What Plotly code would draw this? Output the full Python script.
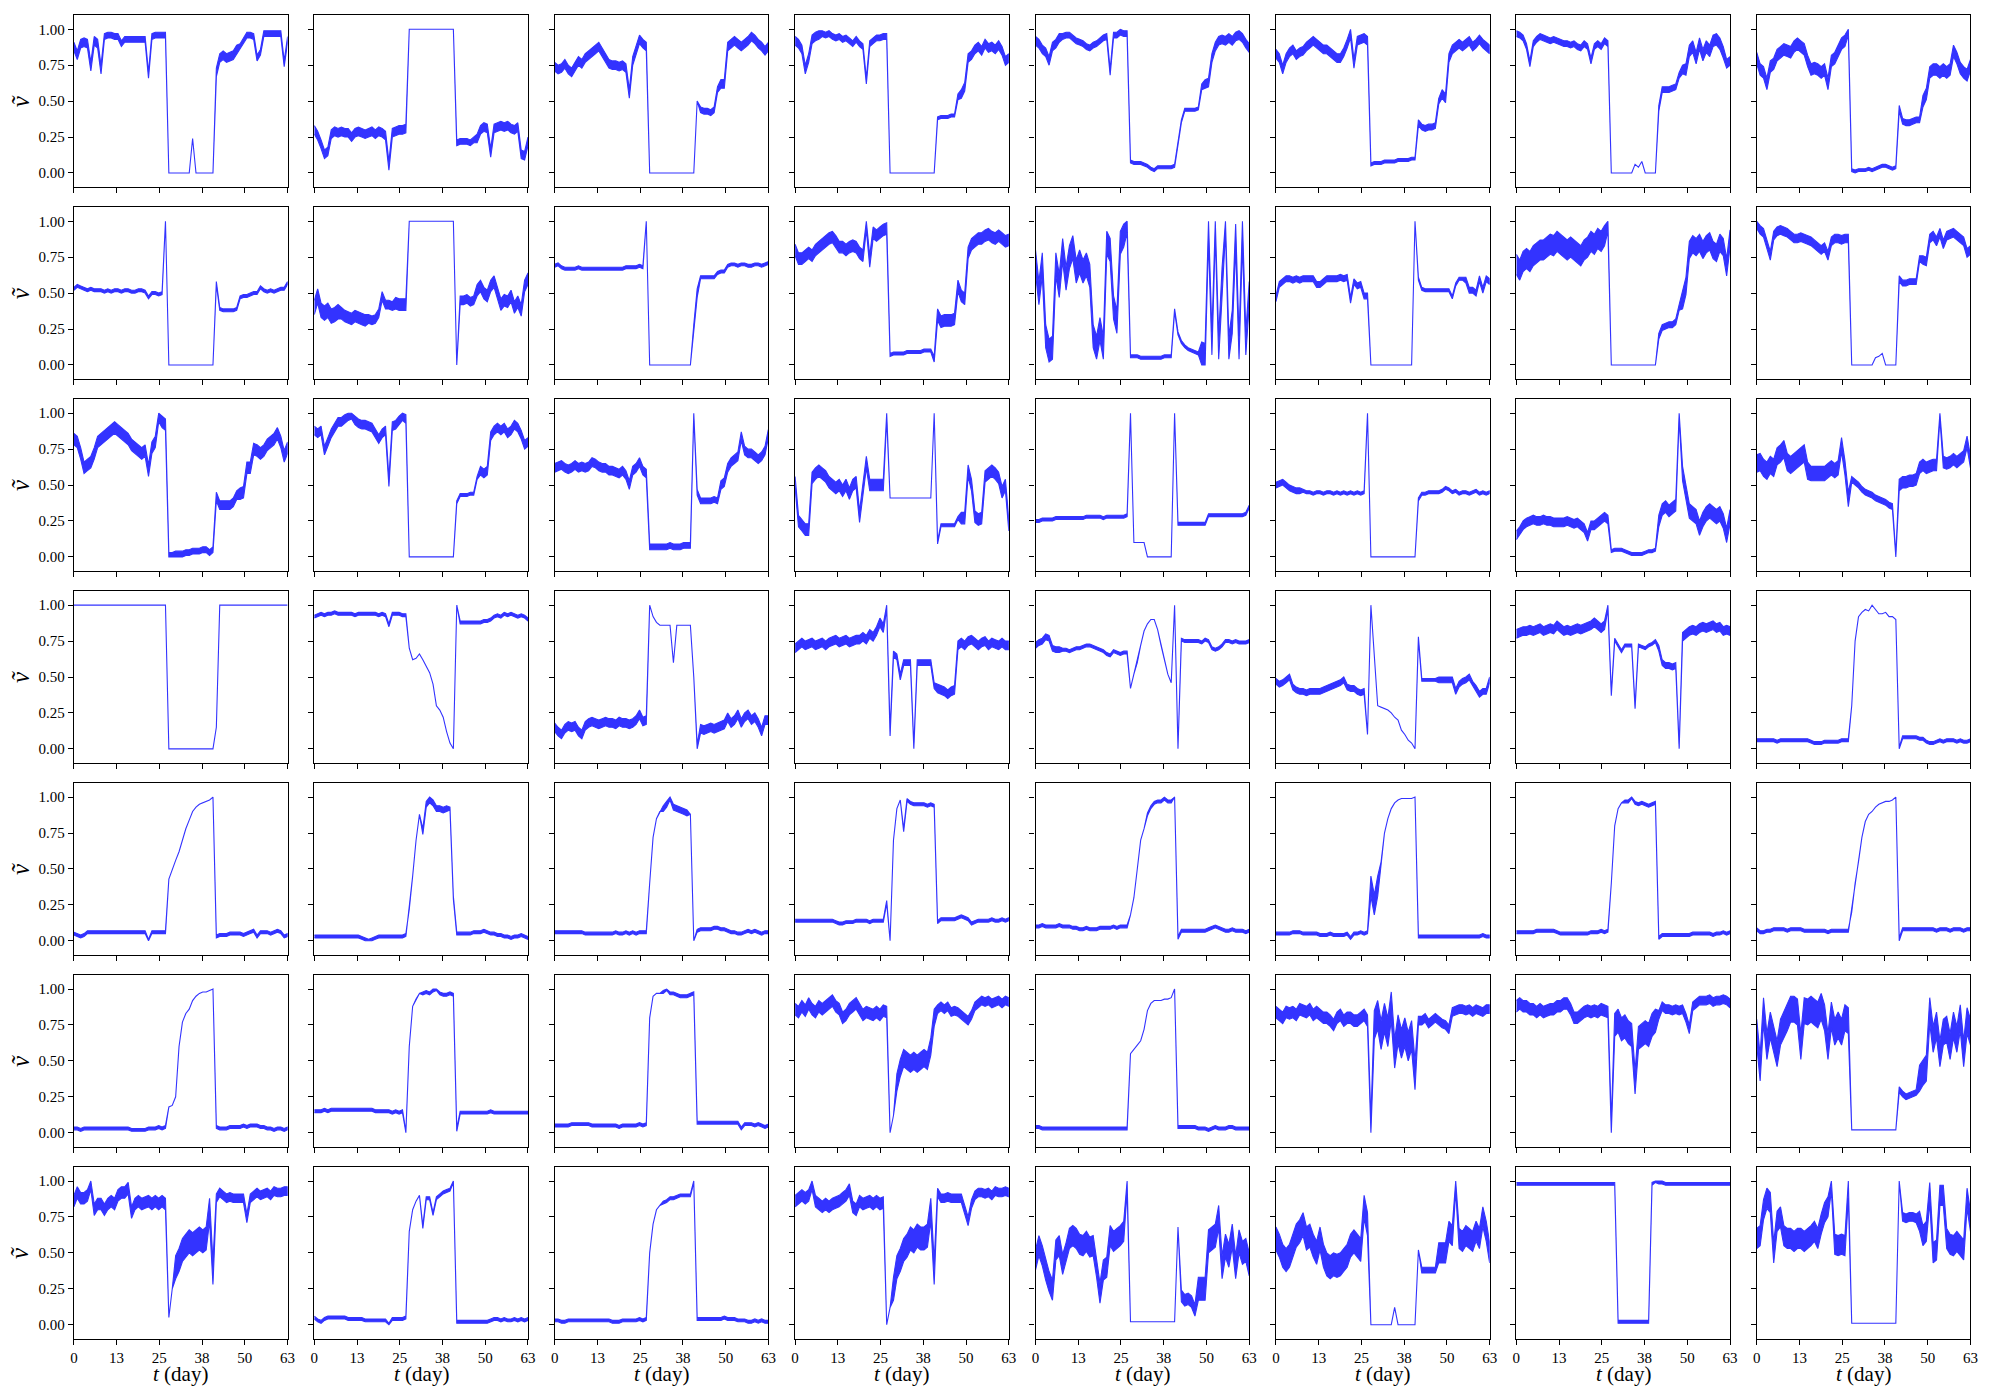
import numpy as np
import plotly.graph_objects as go

# ---------------- axis ticks ----------------
X_TICK_VALS = [0, 12.6, 25.2, 37.8, 50.4, 63]
X_TICK_TEXT = ["0", "13", "25", "38", "50", "63"]
Y_TICK_VALS = [0, 0.25, 0.5, 0.75, 1.0]
Y_TICK_TEXT = ["0.00", "0.25", "0.50", "0.75", "1.00"]
T_MIN, T_MAX = 0, 63

# ---------------- data ----------------
# Central value (x100) read for each day t = 0..63, grouped 8 days per block.
# Noise half-width (x0.01, base-36 digit) read for each day.
ROW1_MID = [
"88 82 90 91 90 74 92 90 / 72 95 96 96 95 95 90 93 / 93 93 93 93 93 93 68 95 / 96 96 96 96 0 0 0 0 / 0 0 0 24 0 0 0 0 / 0 0 70 80 82 80 81 82 / 86 88 92 96 96 95 80 84 / 97 97 97 97 97 97 76 93",
"30 26 20 13 15 27 29 28 / 29 28 28 25 28 29 28 27 / 28 29 27 29 28 26 5 28 / 29 30 30 31 100 100 100 100 / 100 100 100 100 100 100 100 100 / 100 100 21 22 22 22 21 23 / 24 30 32 31 14 31 32 33 / 32 33 31 30 32 13 12 22",
"74 72 73 76 72 70 74 78 / 76 80 82 84 86 88 84 80 / 76 75 75 74 75 73 55 78 / 85 93 90 88 0 0 0 0 / 0 0 0 0 0 0 0 0 / 0 0 50 44 43 43 42 44 / 58 62 62 88 90 92 90 88 / 90 92 95 93 90 88 85 88",
"92 90 86 72 80 93 95 96 / 97 96 97 95 94 95 93 94 / 92 90 93 90 88 64 90 92 / 94 94 95 95 0 0 0 0 / 0 0 0 0 0 0 0 0 / 0 0 38 39 39 39 40 40 / 53 55 60 80 82 86 88 85 / 90 87 88 86 89 85 78 80",
"92 90 86 84 78 88 90 94 / 95 96 96 94 92 91 90 88 / 87 89 90 92 94 95 70 96 / 96 98 97 97 8 7 7 7 / 6 5 3 2 4 4 4 4 / 4 5 20 36 44 44 44 44 / 45 60 62 63 80 88 92 93 / 92 94 92 95 96 94 90 87",
"83 80 72 80 84 86 82 84 / 85 88 90 92 90 88 86 86 / 84 82 80 80 84 90 97 76 / 92 93 94 92 6 7 7 7 / 8 8 8 8 9 9 9 9 / 10 10 35 32 31 32 32 33 / 50 55 52 80 86 88 90 88 / 90 92 88 90 93 90 88 86",
"97 96 94 88 76 90 93 95 / 94 93 92 93 92 91 90 90 / 89 90 88 87 90 88 78 88 / 90 88 92 90 0 0 0 0 / 0 0 0 6 4 8 0 0 / 0 0 45 58 58 58 59 60 / 68 72 72 85 88 80 90 82 / 88 85 92 93 90 84 76 78",
"80 72 70 62 74 76 82 84 / 86 85 84 88 90 88 86 78 / 72 73 72 70 72 62 78 80 / 85 90 92 100 2 1 2 2 / 2 3 2 3 4 5 5 4 / 3 4 45 36 35 35 36 37 / 37 50 55 70 72 72 70 72 / 70 72 85 80 73 70 68 75",
]
ROW1_AMP = [
"33333333 32222222 22222222 22220000 00000000 00333333 32222222 22222222",
"33333333 33333333 33333333 33330000 00000000 00222222 33333333 33333333",
"33333333 33333333 33333333 33330000 00000000 00022222 23333333 33333333",
"33333333 22222222 22222222 22220000 00000000 00111111 23333333 33333333",
"33333333 22222222 22222222 22221111 11111111 11111111 12333333 33333333",
"33333333 33333333 33333333 33331111 11111111 11222222 23333333 33333333",
"22222222 22222222 22222222 22220000 00000000 00222222 23444444 44444433",
"44444444 44444444 44444444 44441111 11111111 11222222 24444444 44444444",
]

ROW2_MID = [
"53 55 54 53 52 53 52 52 / 52 51 52 51 52 52 51 52 / 52 51 51 52 52 51 47 50 / 50 49 50 100 0 0 0 0 / 0 0 0 0 0 0 0 0 / 0 0 57 39 38 38 38 38 / 39 47 48 48 49 50 50 54 / 52 51 52 51 52 53 53 57",
"40 48 38 36 38 34 35 37 / 36 34 33 32 34 33 32 31 / 32 31 32 36 48 42 42 41 / 43 42 42 42 100 100 100 100 / 100 100 100 100 100 100 100 100 / 100 100 0 45 45 46 44 45 / 52 55 50 48 55 58 50 42 / 45 44 48 40 44 38 55 60",
"69 70 68 67 67 67 67 68 / 67 67 67 67 67 67 67 67 / 67 67 67 67 67 68 68 68 / 68 69 68 100 0 0 0 0 / 0 0 0 0 0 0 0 0 / 0 25 50 61 61 61 61 61 / 64 65 65 69 70 70 69 70 / 70 69 69 70 70 69 70 71",
"80 74 74 76 78 76 80 82 / 84 86 88 89 86 82 82 80 / 82 83 82 78 76 98 72 92 / 90 92 94 95 7 8 8 8 / 8 9 9 9 9 9 10 10 / 10 4 35 30 31 31 31 32 / 55 48 46 78 84 86 88 88 / 90 91 89 88 90 88 86 87",
"72 50 70 20 10 12 70 55 / 80 60 75 82 65 72 65 70 / 62 20 12 25 12 85 80 40 / 30 85 90 100 6 6 6 5 / 5 5 5 5 5 5 6 6 / 6 38 22 16 13 11 10 9 / 8 8 7 95 15 98 12 60 / 100 12 30 90 12 92 15 50",
"46 56 58 60 60 59 60 59 / 60 60 60 60 56 56 58 60 / 60 60 60 61 60 61 45 58 / 55 56 48 48 0 0 0 0 / 0 0 0 0 0 0 0 0 / 0 100 60 53 52 52 52 52 / 52 52 52 52 47 56 60 60 / 59 52 52 50 60 52 60 58",
"70 66 72 74 72 76 78 80 / 80 82 84 83 86 84 82 80 / 82 80 78 76 80 82 86 84 / 88 86 90 100 0 0 0 0 / 0 0 0 0 0 0 0 0 / 0 0 20 26 27 28 28 30 / 40 45 55 80 84 82 85 80 / 84 86 80 78 85 82 68 88",
"98 94 92 84 76 90 93 94 / 93 92 90 88 88 89 88 87 / 86 84 82 80 82 76 86 88 / 88 87 88 88 0 0 0 0 / 0 0 0 5 6 8 0 0 / 0 0 60 57 57 58 58 58 / 74 73 72 88 90 86 92 84 / 90 91 92 90 88 86 78 80",
]
ROW2_AMP = [
"11111111 11111111 11111111 11100000 00000000 00111111 11111111 11111111",
"55555555 44444444 33333333 44440000 00000000 00033333 44444444 44444444",
"11111111 11111111 11111111 11100000 00000000 03311111 11111111 11111111",
"44444444 44444444 44444444 44441111 11111111 12444444 44444444 44444444",
"88888888 88888888 88888888 88881111 11111111 11111111 18888888 88888888",
"22222222 22222222 22222222 22220000 00000000 00111111 11111111 22222222",
"77777777 77777777 77777777 77770000 00000000 00222222 26666666 66666666",
"33333333 33333333 33333333 33330000 00000000 00222222 23333333 33333333",
]

ROW3_MID = [
"82 80 72 62 64 66 72 80 / 82 84 86 88 90 88 86 84 / 82 78 76 74 72 74 60 76 / 80 98 94 92 1 1 2 2 / 2 3 3 4 4 4 5 5 / 3 5 42 36 36 36 36 38 / 43 44 45 62 62 75 74 72 / 74 78 80 82 86 80 70 76",
"88 86 88 74 80 86 90 94 / 94 96 98 99 95 93 92 92 / 91 90 86 82 86 88 52 91 / 92 95 98 96 0 0 0 0 / 0 0 0 0 0 0 0 0 / 0 0 38 43 43 43 44 44 / 55 60 58 60 84 88 90 88 / 90 86 88 92 90 85 78 80",
"62 63 64 62 61 62 64 62 / 63 62 63 66 65 63 62 62 / 60 60 59 58 60 57 50 60 / 62 66 60 58 7 7 7 7 / 7 7 8 7 7 7 8 8 / 8 100 45 39 39 39 39 40 / 39 50 52 62 66 68 70 84 / 74 72 72 70 68 70 74 86",
"52 25 22 19 19 55 58 60 / 58 56 52 50 48 50 46 50 / 44 50 52 28 48 66 50 50 / 50 50 50 100 41 41 41 41 / 41 41 41 41 41 41 41 41 / 41 100 10 22 22 22 22 22 / 27 27 27 60 50 28 26 27 / 56 58 60 58 55 45 50 22",
"25 25 26 26 26 26 27 27 / 27 27 27 27 27 27 27 28 / 28 28 28 28 27 28 28 28 / 28 28 28 29 100 10 10 10 / 10 0 0 0 0 0 0 0 / 0 100 23 23 23 23 23 23 / 23 23 23 29 29 29 29 29 / 29 29 29 29 29 29 30 35",
"50 51 52 50 48 47 46 46 / 46 45 45 44 45 45 44 45 / 45 44 45 44 45 44 45 44 / 45 44 45 100 0 0 0 0 / 0 0 0 0 0 0 0 0 / 0 0 40 44 44 45 45 45 / 45 46 48 47 45 46 44 45 / 45 44 45 46 44 45 44 45",
"15 18 22 24 25 26 25 25 / 26 25 25 24 24 24 24 25 / 24 23 24 22 20 14 22 22 / 24 26 28 26 4 5 5 5 / 4 3 2 2 2 2 3 4 / 4 5 25 33 35 32 34 36 / 100 58 45 32 30 28 20 26 / 30 32 30 28 30 25 15 28",
"65 66 62 60 64 62 70 72 / 75 66 64 66 68 70 72 60 / 58 58 58 58 58 60 62 60 / 62 78 62 40 54 52 50 47 / 45 44 43 41 40 39 38 36 / 35 0 50 52 52 53 53 54 / 62 64 62 63 64 64 100 66 / 65 66 68 66 68 70 80 66",
]
ROW3_AMP = [
"44444444 44444444 44444444 44442222 22222222 22333333 34444444 44444444",
"33333333 33333333 33333333 33330000 00000000 00111111 13333333 33333333",
"33333333 33333333 33333333 33332222 22222222 22222222 23333333 33333333",
"44444444 44444444 44444444 44440000 00000000 00111111 14444444 44444444",
"11111111 11111111 11111111 11110000 00000000 00111111 11111111 11111111",
"22222222 11111111 11111111 11110000 00000000 00111111 11111111 11111111",
"33333333 33333333 33333333 33331111 11111111 11444444 45555555 55555555",
"66666666 66666666 55555555 55552222 22222222 22444444 44444444 44444444",
]

ROW4_MID = [
"100 100 100 100 100 100 100 100 / 100 100 100 100 100 100 100 100 / 100 100 100 100 100 100 100 100 / 100 100 100 100 0 0 0 0 / 0 0 0 0 0 0 0 0 / 0 0 15 100 100 100 100 100 / 100 100 100 100 100 100 100 100 / 100 100 100 100 100 100 100 100",
"92 93 94 93 94 94 95 94 / 94 94 94 94 93 94 94 94 / 94 94 94 93 94 93 86 94 / 94 94 93 93 70 62 63 66 / 62 58 53 45 30 27 22 12 / 4 0 100 88 88 88 88 88 / 88 88 89 89 90 92 93 92 / 94 93 94 93 92 93 92 90",
"15 12 10 14 16 15 16 12 / 10 16 18 19 18 17 18 19 / 18 18 17 19 18 18 17 18 / 20 24 19 20 100 92 88 86 / 86 86 86 60 86 86 86 86 / 86 50 0 14 13 14 15 14 / 15 16 17 22 18 20 24 18 / 22 24 20 22 18 12 20 20",
"70 72 74 72 73 74 72 73 / 74 72 74 75 76 74 75 76 / 74 75 76 76 78 76 80 78 / 82 88 84 100 11 66 64 50 / 60 60 60 0 60 60 60 60 / 60 44 42 41 40 38 40 41 / 72 74 72 75 76 74 72 74 / 75 72 74 73 72 74 72 72",
"72 74 75 78 77 70 69 69 / 69 69 68 69 70 70 71 72 / 72 71 70 69 68 66 65 68 / 67 66 67 67 42 52 60 72 / 82 87 90 90 83 72 62 52 / 46 100 0 76 75 75 75 75 / 75 74 76 75 70 69 70 72 / 75 75 74 75 74 74 74 75",
"47 45 46 48 50 43 41 40 / 40 39 40 40 40 40 41 42 / 43 44 45 46 48 43 42 42 / 40 39 40 10 100 65 30 29 / 28 27 25 22 20 13 10 6 / 4 0 77 48 48 48 48 48 / 48 48 48 48 48 40 45 47 / 48 50 45 42 38 40 40 48",
"80 81 82 82 83 82 83 84 / 82 83 84 83 86 84 82 83 / 82 83 84 83 84 85 86 88 / 86 84 86 100 38 76 72 68 / 72 72 72 29 72 71 70 72 / 73 75 70 60 58 58 57 58 / 0 78 80 82 83 82 84 85 / 84 85 86 84 85 82 83 82",
"6 6 6 6 6 6 5 6 / 6 6 6 6 6 6 6 6 / 5 4 4 4 5 5 5 5 / 5 6 6 6 30 75 92 95 / 97 96 100 97 94 94 95 92 / 92 90 0 8 8 8 8 8 / 7 7 5 4 4 5 6 5 / 6 6 6 5 6 5 5 6",
]
ROW4_AMP = [
"00000000 00000000 00000000 00000000 00000000 00000000 00000000 00000000",
"11111111 11111111 11111111 11110000 00000000 00011111 11111111 11111111",
"33333333 33333333 33333333 33330000 00000000 00333333 33333333 33333333",
"33333333 33333333 33333333 33332222 22222222 22333333 33333333 33333333",
"22222222 11111111 11111111 11110000 00000000 00111111 11111111 11111111",
"22222222 22222222 22222222 22200000 00000000 00111111 22222222 22222222",
"33333333 33333333 33333333 33331111 11111111 11222222 23333333 33333333",
"11111111 11111111 11111111 11110000 00000000 00111111 11111111 11111111",
]

ROW5_MID = [
"5 4 3 4 6 6 6 6 / 6 6 6 6 6 6 6 6 / 6 6 6 6 6 6 0 6 / 6 6 6 6 43 50 56 62 / 70 78 84 90 93 95 96 97 / 98 100 3 4 4 4 5 5 / 5 5 4 5 6 7 3 6 / 6 6 5 6 7 6 3 4",
"3 3 3 3 3 3 3 3 / 3 3 3 3 3 3 2 1 / 0 1 2 3 3 3 3 3 / 3 3 3 4 22 45 70 88 / 76 95 98 96 92 92 91 92 / 92 30 5 5 5 5 5 6 / 6 6 7 6 5 5 4 4 / 3 3 2 3 3 4 3 2",
"6 6 6 6 6 6 6 6 / 6 5 5 5 5 5 5 5 / 5 5 6 5 5 6 5 6 / 5 6 6 6 40 72 85 90 / 92 95 100 93 92 91 90 89 / 88 0 7 8 8 8 8 9 / 9 8 8 7 6 6 5 5 / 6 7 6 7 6 5 6 6",
"14 14 14 14 14 14 14 14 / 14 14 14 14 13 12 12 13 / 13 13 14 14 14 14 13 14 / 14 14 14 27 0 70 92 98 / 77 98 96 95 95 95 95 94 / 95 94 13 15 15 15 15 15 / 16 17 16 15 12 13 14 14 / 14 14 15 14 14 15 14 15",
"10 10 11 10 10 10 10 11 / 10 10 10 9 9 8 8 9 / 8 8 8 9 9 9 9 10 / 9 10 10 10 18 30 50 70 / 78 88 93 96 97 97 99 97 / 97 100 2 7 7 7 7 7 / 7 7 7 8 9 10 9 8 / 7 7 8 7 7 7 6 7",
"5 5 5 5 5 6 6 6 / 5 5 5 5 5 4 4 4 / 5 4 4 4 4 5 2 5 / 5 6 5 6 38 25 38 55 / 75 85 92 96 98 99 99 99 / 99 100 3 3 3 3 3 3 / 3 3 3 3 3 3 3 3 / 3 3 3 3 3 4 3 3",
"6 6 6 6 6 6 7 7 / 7 7 7 7 6 5 5 5 / 5 5 5 5 5 5 6 6 / 6 7 6 7 40 80 92 96 / 97 97 100 96 95 96 95 94 / 95 96 2 4 4 4 4 4 / 4 4 4 4 5 5 5 5 / 5 5 4 5 5 6 5 6",
"8 6 6 7 7 8 8 8 / 8 7 8 8 8 8 7 7 / 7 7 7 7 7 6 7 7 / 7 7 7 7 20 40 55 72 / 83 88 90 93 95 96 97 97 / 98 100 1 8 8 8 8 8 / 8 8 8 8 8 7 8 8 / 8 7 8 8 8 7 8 8",
]
ROW5_AMP = [
"11111111 11111111 11111111 11110000 00000000 00111111 11111111 11111111",
"11111111 11111111 11111111 11110000 22222222 11111111 11111111 11111111",
"11111111 11111111 11111111 11110000 22222222 00111111 11111111 11111111",
"11111111 11111111 11111111 11110000 11111111 11111111 11111111 11111111",
"11111111 11111111 11111111 11110000 01111111 10111111 11111111 11111111",
"11111111 11111111 11111111 11117770 00000000 00111111 11111111 11111111",
"11111111 11111111 11111111 11110000 11111111 11111111 11111111 11111111",
"11111111 11111111 11111111 11110000 00000000 00111111 11111111 11111111",
]

ROW6_MID = [
"3 3 2 3 3 3 3 3 / 3 3 3 3 3 3 3 3 / 3 2 2 2 2 2 3 3 / 3 4 3 4 18 19 25 60 / 77 83 86 92 95 97 98 98 / 99 100 4 3 3 3 4 4 / 4 4 5 4 5 5 5 4 / 4 3 3 2 3 3 2 3",
"15 15 15 16 15 16 16 16 / 16 16 16 16 16 16 16 16 / 16 16 15 15 15 15 15 14 / 15 14 15 0 60 88 93 97 / 97 98 97 99 100 97 96 96 / 97 96 2 14 14 14 14 14 / 14 14 14 14 15 14 14 14 / 14 14 14 14 14 14 14 14",
"5 5 5 5 5 6 6 6 / 6 6 6 5 5 5 5 5 / 5 5 5 4 5 5 5 5 / 5 6 5 6 80 95 97 97 / 98 100 97 97 96 95 95 95 / 96 97 7 7 7 7 7 7 / 7 7 7 7 7 7 7 3 / 6 6 6 5 6 5 4 5",
"86 84 88 85 90 86 84 88 / 86 88 90 92 88 86 80 82 / 86 88 90 86 82 84 83 82 / 84 82 85 84 0 12 35 45 / 52 50 48 50 48 50 52 50 / 60 80 86 88 86 88 84 85 / 84 82 80 78 82 88 90 92 / 91 92 90 91 92 90 92 91",
"4 4 3 3 3 3 3 3 / 3 3 3 3 3 3 3 3 / 3 3 3 3 3 3 3 3 / 3 3 3 3 55 58 61 64 / 72 85 90 92 92 92 93 93 / 94 100 4 4 4 4 4 4 / 3 3 3 2 3 4 3 3 / 3 4 4 3 3 3 3 3",
"84 82 80 84 83 84 82 86 / 85 84 86 82 84 82 80 80 / 78 75 80 82 78 80 80 78 / 78 80 82 78 0 75 82 68 / 80 70 88 55 72 62 70 60 / 68 40 78 78 80 76 78 80 / 78 76 75 72 84 85 86 86 / 85 86 84 86 85 84 86 86",
"88 90 88 88 86 86 84 86 / 84 85 86 86 88 88 90 90 / 86 80 80 82 84 85 84 85 / 84 86 85 84 0 75 78 72 / 74 70 68 35 66 68 70 68 / 75 78 82 88 86 86 85 86 / 85 86 80 72 88 90 92 92 / 92 93 91 92 92 93 92 90",
"70 45 85 60 75 65 55 70 / 75 80 86 86 84 60 85 84 / 86 84 82 88 80 60 82 70 / 75 70 80 78 2 2 2 2 / 2 2 2 2 2 2 2 2 / 2 2 30 27 25 26 27 28 / 38 42 45 85 65 75 55 70 / 72 60 75 65 80 55 78 70",
]
ROW6_AMP = [
"11111111 11111111 11111111 11110000 00000000 00111111 11111111 11111111",
"11111111 11111111 11111111 11110000 11111111 11111111 11111111 11111111",
"11111111 11111111 11111111 11110000 11111111 11111111 11111111 11111111",
"44444444 44444444 44444444 44440066 66666666 66333333 33333333 33333333",
"11111111 11111111 11111111 11110000 00000000 00111111 11111111 11111111",
"44444444 44444444 44444444 4444aaaa aaaaaaaa aa333333 33333333 33333333",
"44444444 44444444 44444444 44448888 88888888 88333333 33333333 33333333",
"99999999 99999999 99999999 99990000 00000000 00222222 99999999 99999999",
]

ROW7_MID = [
"86 92 88 88 90 98 80 84 / 84 80 84 86 84 90 92 92 / 95 78 84 86 84 85 86 84 / 86 84 86 84 5 25 40 45 / 52 55 58 56 58 60 58 60 / 80 36 88 92 90 88 89 88 / 88 88 88 74 88 90 92 90 / 91 92 90 93 92 92 93 93",
"5 3 2 4 5 5 5 5 / 5 5 4 4 4 4 4 3 / 3 3 3 3 3 3 0 4 / 4 4 4 5 65 80 86 90 / 68 88 88 77 88 90 92 93 / 94 100 2 2 2 2 2 2 / 2 2 2 2 3 4 4 3 / 4 3 3 4 3 4 3 4",
"3 3 2 2 3 3 3 3 / 3 3 3 3 3 3 3 3 / 3 2 2 2 3 3 3 3 / 3 4 3 4 50 70 80 83 / 85 86 88 88 89 90 90 90 / 90 100 4 4 4 4 4 4 / 4 4 5 4 4 4 3 3 / 3 2 2 3 2 3 2 2",
"86 88 90 88 90 98 86 84 / 82 84 82 84 85 86 88 90 / 94 82 80 86 84 85 86 84 / 86 84 85 0 12 25 40 45 / 52 55 60 58 62 60 60 62 / 80 36 92 88 88 89 88 88 / 88 88 80 72 84 90 92 92 / 91 92 90 93 92 92 93 92",
"45 55 48 38 30 24 52 55 / 42 50 60 62 60 56 55 58 / 54 55 40 22 38 40 62 58 / 60 62 65 100 2 2 2 2 / 2 2 2 2 2 2 2 2 / 2 2 68 20 17 18 16 10 / 25 25 25 58 60 62 75 40 / 55 48 62 40 58 50 52 42",
"60 55 48 45 48 55 62 65 / 70 60 62 55 50 60 48 42 / 40 42 41 42 45 48 55 58 / 55 52 82 70 0 0 0 0 / 0 0 0 12 0 0 0 0 / 0 0 52 38 38 38 38 38 / 50 50 50 65 62 100 60 58 / 62 60 58 65 60 75 65 50",
"98 98 98 98 98 98 98 98 / 98 98 98 98 98 98 98 98 / 98 98 98 98 98 98 98 98 / 98 98 98 98 98 98 2 2 / 2 2 2 2 2 2 2 2 / 98 100 99 99 98 98 98 98 / 98 98 98 98 98 98 98 98 / 98 98 98 98 98 98 98 98",
"60 62 80 88 85 50 72 75 / 62 60 60 58 60 60 58 60 / 62 65 60 70 78 82 100 56 / 55 56 55 95 1 1 1 1 / 1 1 1 1 1 1 1 1 / 1 1 100 75 74 75 75 74 / 72 62 65 92 50 52 90 90 / 60 56 55 58 55 52 88 72",
]
ROW7_AMP = [
"44444444 44444444 44444444 44440088 88888888 88333333 33333333 33333333",
"11111111 11111111 11111111 11110000 11111111 11111111 11111111 11111111",
"11111111 11111111 11111111 11110000 11111111 11111111 11111111 11111111",
"44444444 44444444 44444444 44400888 88888888 88333333 33333333 33333333",
"77777777 77777777 77777777 77770000 00000000 00044444 88888888 88888888",
"88888888 88888888 88888888 88880000 00000000 00022222 77777777 77777777",
"11111111 11111111 11111111 11111111 11111111 11111111 11111111 11111111",
"77777777 77777777 77777777 77770000 00000000 00033333 77777777 77777777",
]

MID_ROWS = [ROW1_MID, ROW2_MID, ROW3_MID, ROW4_MID, ROW5_MID, ROW6_MID, ROW7_MID]
AMP_ROWS = [ROW1_AMP, ROW2_AMP, ROW3_AMP, ROW4_AMP, ROW5_AMP, ROW6_AMP, ROW7_AMP]

X_TITLE = "<i>t</i> (day)"
Y_TITLE = "<i>ṽ</i>"

# ---------------- styling / layout ----------------
W, H = 2000, 1400
L0, DX, PW = 70.3, 241.86, 215.0
T0, DY, PH = 15.3, 191.95, 171.7
LINE_COLOR = "#3333ff"
FONT = "Liberation Serif, DejaVu Serif, serif"


def parse_mid(s):
    return np.array([float(v) for v in s.replace("/", " ").split()]) / 100.0


def parse_amp(s):
    return np.array([int(ch, 36) for ch in s if ch.isalnum()]) / 100.0


fig = go.Figure()
layout = dict(
    width=W, height=H,
    margin=dict(l=0, r=0, t=0, b=0),
    paper_bgcolor="white", plot_bgcolor="white",
    showlegend=False,
)
annotations = []

for r in range(7):
    for c in range(8):
        n = r * 8 + c + 1
        mid = parse_mid(MID_ROWS[r][c])
        amp = parse_amp(AMP_ROWS[r][c])
        if len(mid) != len(amp):
            raise ValueError(f"panel r{r+1}c{c+1}: {len(mid)} values vs {len(amp)} widths")
        t = np.linspace(T_MIN, T_MAX, len(mid))
        upper = np.clip(mid + amp, 0, 1)
        lower = np.clip(mid - amp, 0, 1)
        xs = np.concatenate([t, t[::-1]])
        ys = np.concatenate([upper, lower[::-1]])
        xa = "x" if n == 1 else f"x{n}"
        ya = "y" if n == 1 else f"y{n}"
        fig.add_trace(go.Scatter(
            x=xs, y=ys, mode="lines", fill="toself",
            fillcolor=LINE_COLOR, line=dict(color=LINE_COLOR, width=1.1),
            xaxis=xa, yaxis=ya, hoverinfo="skip", showlegend=False,
        ))

        x0 = L0 + c * DX
        y0 = T0 + r * DY
        xd = [x0 / W, (x0 + PW) / W]
        yd = [1 - (y0 + PH) / H, 1 - y0 / H]
        common = dict(
            showline=True, linecolor="black", linewidth=1.3, mirror=True,
            showgrid=False, zeroline=False,
            ticks="outside", ticklen=5, tickwidth=1, tickcolor="black",
            tickfont=dict(family=FONT, size=15, color="black"),
        )
        layout["xaxis" if n == 1 else f"xaxis{n}"] = dict(
            domain=xd, range=[T_MIN, T_MAX], anchor=ya,
            tickvals=X_TICK_VALS, ticktext=X_TICK_TEXT,
            showticklabels=(r == 6), **common,
        )
        layout["yaxis" if n == 1 else f"yaxis{n}"] = dict(
            domain=yd, range=[-0.0975, 1.0975], anchor=xa,
            tickvals=Y_TICK_VALS, ticktext=Y_TICK_TEXT,
            showticklabels=(c == 0), **common,
        )
        if r == 6:
            annotations.append(dict(
                text=X_TITLE, x=(x0 + PW / 2) / W, y=1 - 1374 / H,
                xref="paper", yref="paper", xanchor="center", yanchor="middle",
                showarrow=False, font=dict(family=FONT, size=21, color="black"),
            ))
        if c == 0:
            annotations.append(dict(
                text=Y_TITLE, x=16 / W, y=1 - (y0 + 86) / H,
                xref="paper", yref="paper", xanchor="center", yanchor="middle",
                textangle=-90, showarrow=False,
                font=dict(family=FONT, size=25, color="black"),
            ))

layout["annotations"] = annotations
fig.update_layout(**layout)
fig.write_html("out.html")
